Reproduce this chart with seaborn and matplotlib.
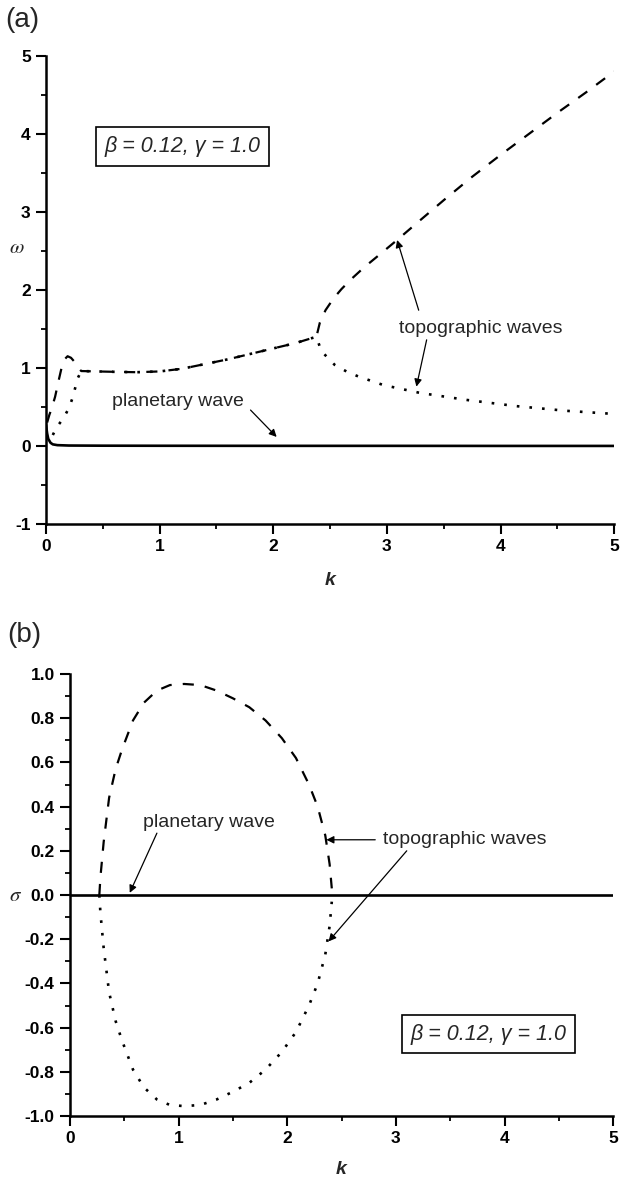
import numpy as np
import pandas as pd
import matplotlib
matplotlib.use("Agg")
import matplotlib.pyplot as plt
import seaborn as sns
from matplotlib.ticker import MultipleLocator, FormatStrFormatter

# ---------------- data: panel (a) ----------------
k_planetary_a = [0.0, 0.01, 0.02, 0.04, 0.06, 0.1, 0.2, 0.5, 1.0, 2.0, 3.0, 4.0, 5.0]
w_planetary_a = [0.27, 0.16, 0.09, 0.04, 0.02, 0.01, 0.005, 0.003, 0.002, 0.001, 0.001, 0.0, 0.0]

k_upper_low = [0.01, 0.03, 0.05, 0.08, 0.11, 0.14, 0.17, 0.19, 0.22, 0.25, 0.28]
w_upper_low = [0.30, 0.40, 0.48, 0.63, 0.83, 1.02, 1.12, 1.15, 1.13, 1.08, 1.01]
k_lower_low = [0.06, 0.08, 0.11, 0.14, 0.17, 0.20, 0.23, 0.26, 0.28]
w_lower_low = [0.14, 0.20, 0.27, 0.33, 0.40, 0.48, 0.60, 0.76, 0.87]

k_pair = [0.31, 0.45, 0.6, 0.8, 1.0, 1.2, 1.4, 1.6, 1.8, 2.0, 2.2, 2.38]
w_pair = [0.96, 0.955, 0.95, 0.945, 0.955, 0.99, 1.05, 1.11, 1.18, 1.25, 1.32, 1.40]

k_upper_high = [2.41, 2.46, 2.53, 2.60, 2.68, 2.80, 2.95, 3.09, 3.25, 3.5, 3.75, 4.0, 4.25, 4.5, 4.75, 5.0]
w_upper_high = [1.58, 1.74, 1.89, 2.01, 2.13, 2.29, 2.47, 2.64, 2.84, 3.15, 3.45, 3.73, 4.0, 4.27, 4.53, 4.80]
k_lower_high = [2.41, 2.44, 2.54, 2.65, 2.75, 2.97, 3.29, 3.70, 4.14, 4.58, 5.0]
w_lower_high = [1.27, 1.19, 1.04, 0.95, 0.89, 0.78, 0.68, 0.59, 0.51, 0.45, 0.41]

# ---------------- data: panel (b) ----------------
k_planetary_b = [0.0, 5.0]
s_planetary_b = [0.0, 0.0]

k_growth = [0.27, 0.28, 0.31, 0.36, 0.42, 0.48, 0.58, 0.68, 0.80, 0.92, 1.05, 1.2,
            1.35, 1.5, 1.65, 1.8, 1.95, 2.08, 2.2, 2.28, 2.35, 2.39, 2.41]
s_growth = [0.0, 0.08, 0.24, 0.44, 0.57, 0.66, 0.79, 0.87, 0.925, 0.95, 0.955, 0.95,
            0.925, 0.89, 0.85, 0.79, 0.71, 0.62, 0.50, 0.40, 0.27, 0.14, 0.03]
s_decay = [-0.0, -0.08, -0.24, -0.44, -0.57, -0.66, -0.79, -0.87, -0.925, -0.95, -0.955, -0.95,
           -0.925, -0.89, -0.85, -0.79, -0.71, -0.62, -0.50, -0.40, -0.27, -0.14, -0.03]

param_text = "\u03b2 = 0.12, \u03b3 = 1.0"

# ---------------- style ----------------
sns.set_style("ticks")
plt.rcParams["font.family"] = ["Liberation Sans", "DejaVu Sans"]
plt.rcParams["axes.unicode_minus"] = False
plt.rcParams["mathtext.fontset"] = "stix"

fig = plt.figure(figsize=(6.25, 11.8), dpi=100)
ax_a = fig.add_axes([0.0736, 0.556, 0.909, 0.3966])
ax_b = fig.add_axes([0.112, 0.0542, 0.869, 0.3746])

SOLID = dict(color="black", linewidth=1.9)
DASH = dict(color="black", linewidth=1.6, dashes=(5, 5))
DOT = dict(color="black", linewidth=1.9, dashes=(1, 3.8))


def line(ax, k, v, style):
    df = pd.DataFrame({"k": k, "v": v})
    sns.lineplot(data=df, x="k", y="v", ax=ax, sort=False, estimator=None,
                 legend=False, **style)


# panel (a)
upper_k = k_upper_low + k_pair + k_upper_high
upper_w = w_upper_low + w_pair + w_upper_high
lower_k = k_lower_low + k_pair + k_lower_high
lower_w = w_lower_low + w_pair + w_lower_high
line(ax_a, k_planetary_a, w_planetary_a, SOLID)
line(ax_a, upper_k, upper_w, DASH)
line(ax_a, lower_k, lower_w, DOT)

# panel (b)
line(ax_b, k_planetary_b, s_planetary_b, SOLID)
line(ax_b, k_growth, s_growth, DASH)
line(ax_b, k_growth, s_decay, DOT)


def style_axes(ax, ylim, ymaj, ymin, yfmt):
    ax.set_xlim(0, 5)
    ax.set_ylim(*ylim)
    ax.xaxis.set_major_locator(MultipleLocator(1))
    ax.xaxis.set_minor_locator(MultipleLocator(0.5))
    ax.yaxis.set_major_locator(MultipleLocator(ymaj))
    ax.yaxis.set_minor_locator(MultipleLocator(ymin))
    ax.yaxis.set_major_formatter(FormatStrFormatter(yfmt))
    ax.xaxis.set_major_formatter(FormatStrFormatter("%d"))
    for s in ["top", "right"]:
        ax.spines[s].set_visible(False)
    for s in ["left", "bottom"]:
        ax.spines[s].set_linewidth(1.8)
        ax.spines[s].set_color("black")
    ax.tick_params(which="major", direction="out", length=7, width=1.5,
                   color="black", labelsize=12.5, pad=4, labelcolor="black")
    ax.tick_params(which="minor", direction="out", length=3.5, width=1.3,
                   color="black")
    for lab in ax.get_xticklabels() + ax.get_yticklabels():
        lab.set_fontweight("bold")
    ax.set_xlabel("k", fontsize=14, fontweight="bold", fontstyle="italic",
                  va="center", ha="center")


style_axes(ax_a, (-1, 5), 1, 0.5, "%d")
style_axes(ax_b, (-1, 1), 0.2, 0.1, "%.1f")
ax_a.xaxis.set_label_coords(0.5, -0.12)
ax_b.xaxis.set_label_coords(0.5, -0.122)

ax_a.set_ylabel(r"$\omega$", fontsize=15, rotation=0, va="center", ha="center")
ax_a.yaxis.set_label_coords(-0.052, 0.59)
ax_b.set_ylabel(r"$\sigma$", fontsize=15, rotation=0, va="center", ha="center")
ax_b.yaxis.set_label_coords(-0.10, 0.5)

# panel letters
fig.text(0.008, 1 - 20 / 1180, "(a)", fontsize=20, va="center", ha="left")
fig.text(0.012, 1 - 635 / 1180, "(b)", fontsize=20, va="center", ha="left")

# parameter boxes
box = dict(boxstyle="square,pad=0.4", fc="white", ec="black", lw=1.2)
ax_a.text(1.20, 3.84, param_text, fontsize=15.5, fontstyle="italic",
          ha="center", va="center", bbox=box)
ax_b.text(3.85, -0.63, param_text, fontsize=15.5, fontstyle="italic",
          ha="center", va="center", bbox=box)

arrow = dict(arrowstyle="-|>", color="black", lw=0.9, mutation_scale=11,
             shrinkA=0, shrinkB=0)
TXT = dict(fontsize=14, ha="center", va="center")

# annotations (a)
ax_a.text(1.157, 0.57, "planetary wave", **TXT)
ax_a.annotate("", xy=(2.03, 0.115), xytext=(1.80, 0.46), arrowprops=arrow)
ax_a.text(3.83, 1.51, "topographic waves", **TXT)
ax_a.annotate("", xy=(3.09, 2.64), xytext=(3.28, 1.74), arrowprops=arrow)
ax_a.annotate("", xy=(3.26, 0.76), xytext=(3.35, 1.36), arrowprops=arrow)

# annotations (b)
ax_b.text(1.275, 0.326, "planetary wave", **TXT)
ax_b.annotate("", xy=(0.55, 0.01), xytext=(0.80, 0.28), arrowprops=arrow)
ax_b.text(2.88, 0.25, "topographic waves", fontsize=14, ha="left", va="center")
ax_b.annotate("", xy=(2.36, 0.25), xytext=(2.81, 0.25), arrowprops=arrow)
ax_b.annotate("", xy=(2.38, -0.21), xytext=(3.10, 0.20), arrowprops=arrow)

fig.savefig("out.png", dpi=100)
